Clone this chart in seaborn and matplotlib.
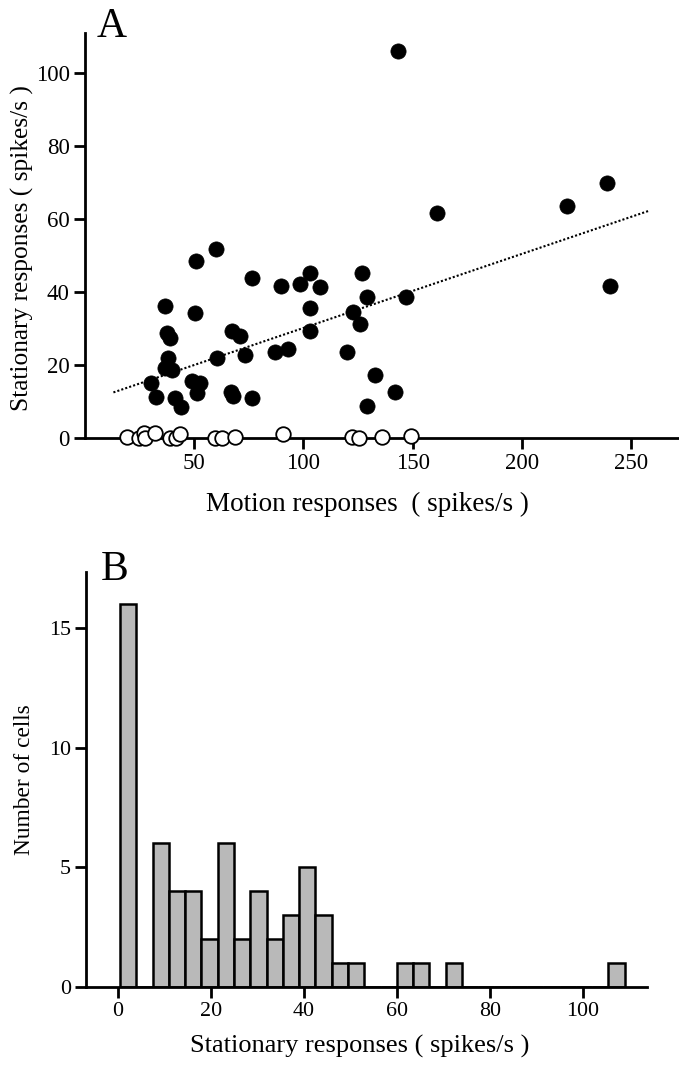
import numpy as np
import pandas as pd
import matplotlib
matplotlib.use("Agg")
import matplotlib.pyplot as plt
import seaborn as sns

# ---- Panel A data: motion vs stationary responses (spikes/s) ----
filled_motion = [36.7, 50.6, 59.8, 76.4, 89.6, 98.5, 103.0, 107.6, 103.0, 103.0,
                 50.2, 37.6, 39.0, 67.4, 70.8, 73.1, 60.4, 87.2, 92.9, 37.9,
                 36.4, 39.7, 30.0, 32.6, 41.0, 44.0, 48.9, 52.8, 51.2, 67.0,
                 67.7, 76.4, 119.9, 122.5, 125.8, 127.0, 128.9, 132.7, 128.9,
                 143.4, 161.0, 220.9, 239.1, 240.4, 147.0, 142.0]
filled_stationary = [36.1, 48.4, 51.9, 43.9, 41.8, 42.2, 45.2, 41.3, 35.5, 29.4,
                     34.2, 28.8, 27.4, 29.4, 28.0, 22.8, 21.8, 23.5, 24.4, 21.9,
                     19.1, 18.7, 15.0, 11.3, 10.9, 8.6, 15.5, 15.0, 12.3, 12.7,
                     11.5, 10.9, 23.5, 34.6, 31.2, 45.2, 38.6, 17.3, 8.8,
                     106.0, 61.7, 63.5, 69.8, 41.8, 38.6, 12.6]
open_motion = [19.1, 24.5, 27.2, 27.5, 32.1, 38.7, 41.7, 43.4, 59.3, 62.8,
               68.8, 90.5, 122.3, 125.5, 136.2, 149.5]
open_stationary = [0.3, 0.0, 1.3, 0.0, 1.4, 0.0, 0.1, 1.0, 0.0, 0.0,
                   0.2, 1.2, 0.2, 0.0, 0.2, 0.5]
fit_x_range = [13, 258]
fit_slope = 0.203
fit_intercept = 9.86

# ---- Panel B data: histogram of stationary responses ----
bin_width = 3.5
bin_start = 0.5
hist_counts = [16, 0, 6, 4, 4, 2, 6, 2, 4, 2, 3, 5, 3, 1, 1, 0, 0, 1, 1, 0, 1,
               0, 0, 0, 0, 0, 0, 0, 0, 0, 1]

a_xticks = [50, 100, 150, 200, 250]
a_yticks = [0, 20, 40, 60, 80, 100]
b_xticks = [0, 20, 40, 60, 80, 100]
b_yticks = [0, 5, 10, 15]

sns.set_theme(style="ticks")
plt.rcParams['font.family'] = ['Liberation Serif', 'DejaVu Serif']
plt.rcParams['text.color'] = 'black'
plt.rcParams['axes.labelcolor'] = 'black'

fig = plt.figure(figsize=(6.79, 10.67), dpi=100)
axA = fig.add_axes([0.1252, 0.5895, 0.8748, 0.3795])
axB = fig.add_axes([0.1267, 0.0753, 0.8263, 0.3886])

df_f = pd.DataFrame({"motion": filled_motion, "stationary": filled_stationary})
df_o = pd.DataFrame({"motion": open_motion, "stationary": open_stationary})
fx = np.array(fit_x_range, dtype=float)
df_fit = pd.DataFrame({"motion": fx, "stationary": fit_intercept + fit_slope * fx})

sns.lineplot(data=df_fit, x="motion", y="stationary", ax=axA, color="black",
             linestyle=(0, (1, 1)), linewidth=1.5)
sns.scatterplot(data=df_f, x="motion", y="stationary", ax=axA, color="black",
                s=120, edgecolor="black", linewidth=0.5, zorder=3)
sns.scatterplot(data=df_o, x="motion", y="stationary", ax=axA, color="white",
                s=110, edgecolor="black", linewidth=1.3, zorder=4, clip_on=False)

axA.set_xlim(0, 272)
axA.set_ylim(0, 111)
axA.set_xticks(a_xticks)
axA.set_yticks(a_yticks)
axA.set_xlabel("Motion responses  ( spikes/s )", fontsize=19.5)
axA.set_ylabel("Stationary responses ( spikes/s )", fontsize=18.3)
axA.xaxis.set_label_coords(0.476, -0.133)
axA.yaxis.set_label_coords(-0.086, 0.47)
sns.despine(ax=axA)

n_bins = len(hist_counts)
centers = bin_start + bin_width * (np.arange(n_bins) + 0.5)
df_h = pd.DataFrame({"center": centers, "count": np.array(hist_counts, dtype=float)})
sns.histplot(data=df_h, x="center", weights="count", binwidth=bin_width,
             binrange=(bin_start, bin_start + bin_width * n_bins), ax=axB,
             color="#b9b9b9", edgecolor="black", linewidth=1.8, alpha=1)
axB.set_xlim(-6.8, 113.8)
axB.set_ylim(0, 17.35)
axB.set_xticks(b_xticks)
axB.set_yticks(b_yticks)
axB.set_xlabel("Stationary responses ( spikes/s )", fontsize=19)
axB.set_ylabel("Number of cells", fontsize=16.8)
axB.xaxis.set_label_coords(0.487, -0.116)
axB.yaxis.set_label_coords(-0.091, 0.5)
sns.despine(ax=axB)

for ax, lsz in ((axA, 16.5), (axB, 15.8)):
    for sp in ("left", "bottom"):
        ax.spines[sp].set_linewidth(2)
        ax.spines[sp].set_color("black")
    ax.tick_params(axis="both", direction="out", length=8, width=2,
                   labelsize=lsz, colors="black", pad=3)

fig.text(0.143, 0.975, "A", fontsize=30, va="center", ha="left")
fig.text(0.148, 0.4658, "B", fontsize=30, va="center", ha="left")

fig.savefig("out.png", dpi=100, facecolor="white")
